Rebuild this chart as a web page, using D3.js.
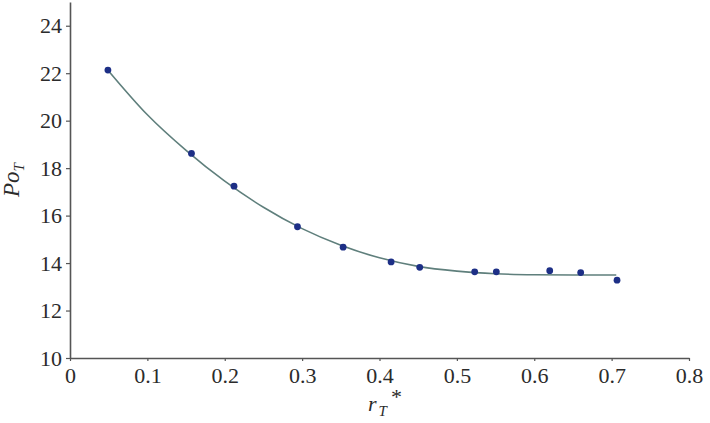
<!DOCTYPE html>
<html>
<head>
<meta charset="utf-8" />
<title>Po_T vs r_T*</title>
<script src="https://d3js.org/d3.v7.min.js"></script>
<style>
  body { margin: 0; padding: 0; background: #fff; }
  #chart { width: 710px; height: 423px; }
  svg text { font-family: "Liberation Serif", "DejaVu Serif", serif; }
</style>
</head>
<body>
<div id="chart"></div>
<script>

// measured points
const rT = [0.049, 0.157, 0.212, 0.294, 0.353, 0.415, 0.452, 0.523, 0.551, 0.620, 0.660, 0.707]
const poT = [22.13, 18.62, 17.24, 15.53, 14.67, 14.05, 13.82, 13.63, 13.63, 13.68, 13.60, 13.28]

// fitted curve
const fitX = [0.049, 0.10, 0.15, 0.20, 0.25, 0.30, 0.35, 0.40, 0.45, 0.50, 0.55, 0.60, 0.65, 0.706]
const fitY = [22.13, 20.25, 18.75, 17.45, 16.35, 15.45, 14.75, 14.22, 13.86, 13.66, 13.55, 13.51, 13.50, 13.50]

const xTicks = [0, 0.1, 0.2, 0.3, 0.4, 0.5, 0.6, 0.7, 0.8]
const yTicks = [10, 12, 14, 16, 18, 20, 22, 24]

const width = 710, height = 423
const serif = '"Liberation Serif", "DejaVu Serif", serif'

const svg = d3.select('#chart').append('svg')
  .attr('width', width)
  .attr('height', height)

const x = d3.scaleLinear().domain([0, 0.8]).range([70, 689])
const y = d3.scaleLinear().domain([10, 25]).range([358, 2])

// axes
const xAxis = svg.append('g')
  .attr('transform', 'translate(0,358)')
  .call(d3.axisBottom(x).tickValues(xTicks).tickSize(3).tickSizeOuter(0)
    .tickFormat(d => d === 0 ? '0' : d3.format('.1f')(d)))
  .attr('font-family', serif)
  .attr('font-size', 22)
xAxis.selectAll('text').attr('dy', '0.85em')

const yAxis = svg.append('g')
  .attr('transform', 'translate(70,0)')
  .call(d3.axisLeft(y).tickValues(yTicks).tickSize(4).tickSizeOuter(0))
  .attr('font-family', serif)
  .attr('font-size', 22)
yAxis.selectAll('text').attr('dx', '-0.05em')

svg.selectAll('.domain').attr('stroke', '#555').attr('stroke-width', 1.6)
svg.selectAll('.tick line').attr('stroke', '#555').attr('stroke-width', 1.2)
svg.selectAll('.tick text').attr('fill', '#2b2b2b')

// fitted line
const fit = fitX.map((v, i) => ({x: v, y: fitY[i]}))
svg.append('path')
  .datum(fit)
  .attr('fill', 'none')
  .attr('stroke', '#5f7f7c')
  .attr('stroke-width', 1.6)
  .attr('d', d3.line()
    .x(d => x(d.x))
    .y(d => y(d.y))
    .curve(d3.curveMonotoneX))

// points
const pts = rT.map((v, i) => ({x: v, y: poT[i]}))
svg.selectAll('circle.pt')
  .data(pts)
  .enter()
  .append('circle')
    .attr('class', 'pt')
    .attr('fill', '#1d2f86')
    .attr('cx', d => x(d.x))
    .attr('cy', d => y(d.y))
    .attr('r', 3.4)

// axis titles
const xl = svg.append('text')
  .attr('x', 385)
  .attr('y', 411)
  .attr('text-anchor', 'middle')
  .attr('font-size', 22)
  .attr('font-style', 'italic')
  .attr('fill', '#2b2b2b')
xl.append('tspan').text('r')
xl.append('tspan').attr('font-size', 15).attr('dy', 5).attr('dx', 2).text('T')
xl.append('tspan').attr('dy', -12).attr('dx', 4).attr('font-style', 'normal').text('*')

const yl = svg.append('text')
  .attr('transform', 'translate(19,180) rotate(-90)')
  .attr('text-anchor', 'middle')
  .attr('font-size', 23)
  .attr('font-style', 'italic')
  .attr('fill', '#2b2b2b')
yl.append('tspan').text('Po')
yl.append('tspan').attr('font-size', 15).attr('dy', 5).text('T')

</script>
</body>
</html>
